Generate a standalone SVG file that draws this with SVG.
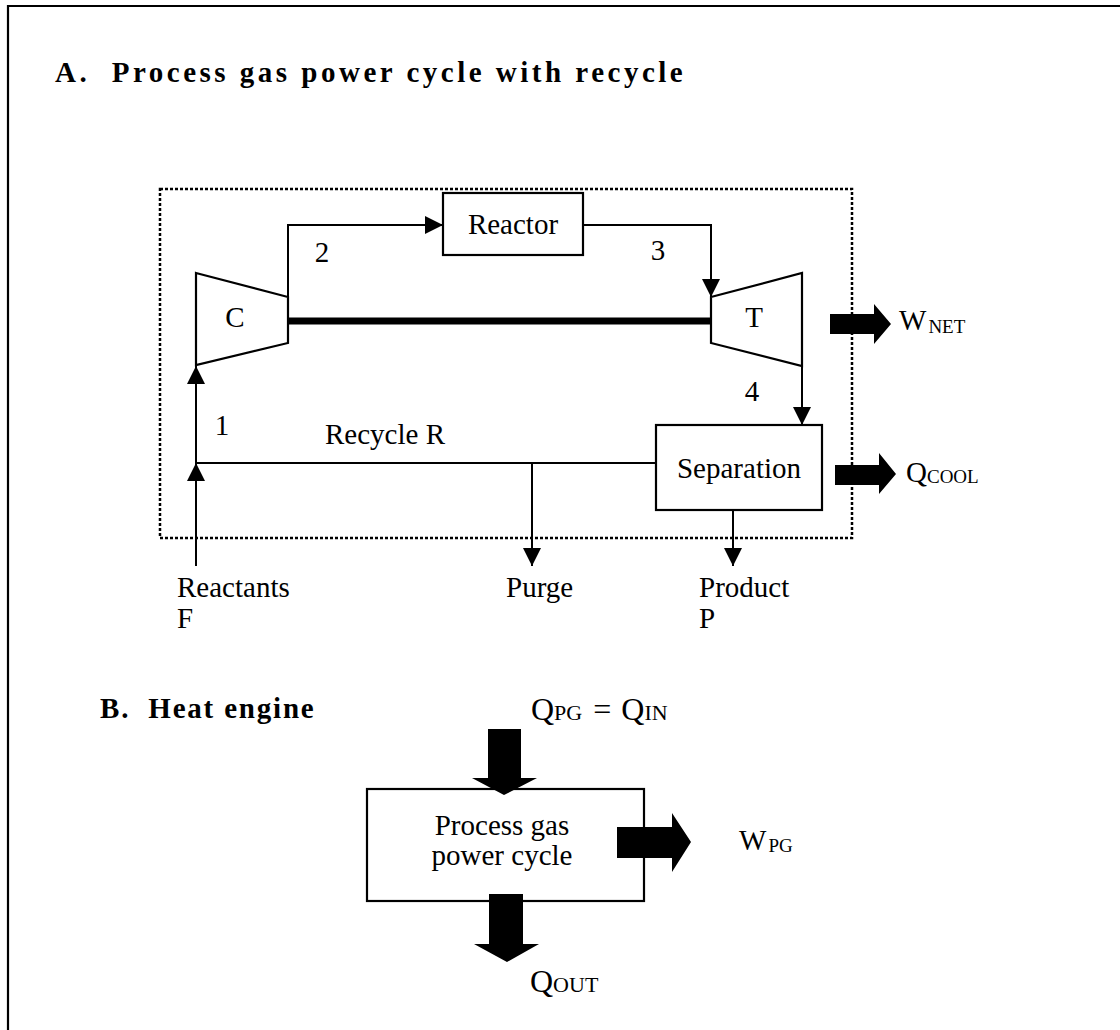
<svg xmlns="http://www.w3.org/2000/svg" width="1120" height="1030" viewBox="0 0 1120 1030">
<defs>
<marker id="ah" markerUnits="userSpaceOnUse" markerWidth="18" markerHeight="18" viewBox="0 0 18 18" refX="18" refY="9" orient="auto">
<path d="M0,0 L18,9 L0,18 Z" fill="#000"/>
</marker>
</defs>
<style>
.ln{fill:none;stroke:#000;stroke-width:2}
.bx{fill:#fff;stroke:#000;stroke-width:2.2}
.t{font-family:"Liberation Serif","Times New Roman",serif;font-size:29px;fill:#000}
.tc{text-anchor:middle}
.h{font-family:"Liberation Serif","Times New Roman",serif;font-size:29px;font-weight:bold;fill:#000}
.s{font-size:19px}
.q{font-size:32px}
.qs{font-size:22px}
.ba{fill:#000;stroke:none}
</style>
<rect width="1120" height="1030" fill="#fff"/>
<path d="M8,1040 V6 H1130" fill="none" stroke="#000" stroke-width="2.2"/>
<text class="h" x="55" y="82" letter-spacing="3.5" xml:space="preserve">A.  Process gas power cycle with recycle</text>
<text class="h" x="100" y="718" font-size="26" letter-spacing="1.8" xml:space="preserve">B.  Heat engine</text>
<rect id="boundary" x="160" y="189" width="692" height="349" fill="none" stroke="#000" stroke-width="2.5" stroke-dasharray="3 2"/>

<g id="connectors">
<path class="ln" d="M288,297 V225 H443" marker-end="url(#ah)"/>
<path class="ln" d="M583,225 H711 V297" marker-end="url(#ah)"/>
<path class="ln" d="M802,366 V425" marker-end="url(#ah)"/>
<path class="ln" d="M196,566 V463" marker-end="url(#ah)"/>
<path class="ln" d="M196,463 V366" marker-end="url(#ah)"/>
<path class="ln" d="M656,463 H196"/>
<path class="ln" d="M532,463 V566" marker-end="url(#ah)"/>
<path class="ln" d="M733,510 V566" marker-end="url(#ah)"/>
<line x1="288" y1="321" x2="711" y2="321" stroke="#000" stroke-width="7"/>
</g>

<g id="compressor">
<polygon class="bx" points="196,273 288,297 288,343 196,365"/>
<text class="t tc" x="235" y="327">C</text>
</g>
<g id="turbine">
<polygon class="bx" points="711,297 802,273 802,366 711,343"/>
<text class="t tc" x="754" y="327">T</text>
</g>
<g id="reactor">
<rect class="bx" x="443" y="193" width="140" height="62"/>
<text class="t tc" x="513" y="234">Reactor</text>
</g>
<g id="separation">
<rect class="bx" x="656" y="425" width="166" height="85"/>
<text class="t tc" x="739" y="478">Separation</text>
</g>

<g id="labels">
<text class="t tc" x="322" y="262">2</text>
<text class="t tc" x="658" y="260">3</text>
<text class="t tc" x="752" y="401">4</text>
<text class="t tc" x="222" y="435">1</text>
<text class="t" x="325" y="444">Recycle R</text>
<text class="t" x="177" y="597">Reactants</text>
<text class="t" x="177" y="628">F</text>
<text class="t" x="506" y="597">Purge</text>
<text class="t" x="699" y="597">Product</text>
<text class="t" x="699" y="628">P</text>
</g>

<g id="wnet">
<polygon class="ba" points="830,314 874,314 874,304 891,324 874,344 874,334 830,334"/>
<text class="t" x="899" y="330">W<tspan class="s" dx="2" dy="3">NET</tspan></text>
</g>
<g id="qcool">
<polygon class="ba" points="835,465 879,465 879,453 896,474 879,494 879,485 835,485"/>
<text class="t" x="906" y="482">Q<tspan class="s" dy="1">COOL</tspan></text>
</g>

<g id="engine">
<rect class="bx" x="367" y="789" width="277" height="112"/>
<text class="t tc" x="502" y="835">Process gas</text>
<text class="t tc" x="502" y="865">power cycle</text>
</g>
<g id="qin">
<polygon class="ba" points="488,729 521,729 521,778 537,778 504,795 472,778 488,778"/>
<text class="t q" x="531" y="720" xml:space="preserve">Q<tspan class="qs">PG</tspan><tspan dx="3"> = </tspan><tspan dx="2">Q</tspan><tspan class="qs">IN</tspan></text>
</g>
<g id="wpg">
<polygon class="ba" points="617,827 672,827 672,813 691,842 672,872 672,858 617,858"/>
<text class="t" x="739" y="850">W<tspan class="s" font-size="21" dx="2" dy="2">PG</tspan></text>
</g>
<g id="qout">
<polygon class="ba" points="489,894 523,894 523,944 539,944 507,962 474,944 489,944"/>
<text class="t q" x="530" y="992">Q<tspan class="qs">OUT</tspan></text>
</g>
</svg>
